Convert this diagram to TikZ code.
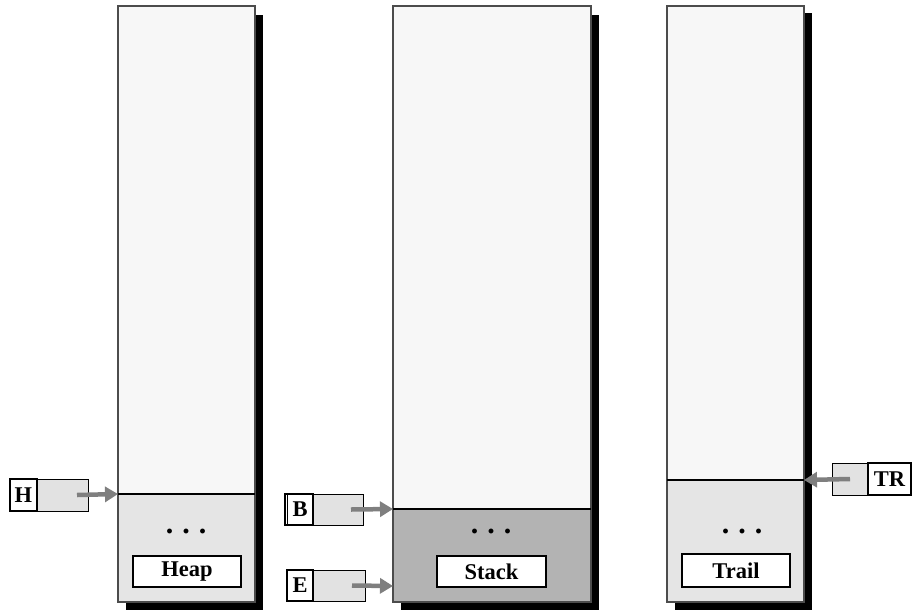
\documentclass[tikz,border=0pt]{standalone}
\usepackage{fontspec}
\setmainfont{Liberation Serif}
\usetikzlibrary{arrows.meta}
\definecolor{topfill}{HTML}{F7F7F7}
\definecolor{lowfill}{HTML}{E5E5E5}
\definecolor{stackfill}{HTML}{B3B3B3}
\definecolor{regfill}{HTML}{E2E2E2}
\definecolor{arrowgray}{HTML}{7F7F7F}
\begin{document}
\begin{tikzpicture}[x=1pt,y=-1pt,
  box/.style={rectangle, anchor=north west, inner sep=0pt, outer sep=0pt},
  colbox/.style={box, draw=black!70, line width=1.1pt, fill=topfill},
  lowbox/.style={box, draw=black!70, line width=1.1pt},
  shadowbox/.style={box, fill=black},
  divider/.style={line width=1.4pt, black},
  labelbox/.style={box, draw=black, line width=1.3pt, fill=white, font=\bfseries\fontsize{22.5}{24}\selectfont},
  letterbox/.style={box, draw=black, line width=1.2pt, fill=white, font=\bfseries\fontsize{22.5}{24}\selectfont},
  valbox/.style={box, draw=black, line width=0.9pt, fill=regfill},
  dots/.style={font=\bfseries\fontsize{30}{32}\selectfont, inner sep=0pt},
  ptr/.style={arrowgray, line width=4.5pt, -{Triangle[length=13pt,width=15pt]}}
]
\useasboundingbox (0,0) rectangle (912,611);

% ---------- Heap ----------
\node[shadowbox, minimum width=137pt, minimum height=595pt] (heapsh) at (126,15) {};
\node[colbox, minimum width=137pt, minimum height=596pt] (heap) at (118,6) {};
\node[lowbox, fill=lowfill, minimum width=137pt, minimum height=108pt] (heaplow) at (118,494) {};
\draw[divider] (heaplow.north west) -- (heaplow.north east);
\node[dots] (heapdots) at (186,531) {.\hspace{9pt}.\hspace{9pt}.};
\node[labelbox, minimum width=108pt, minimum height=31pt] (heaplab) at (133,556) {Heap};

% ---------- Stack ----------
\node[shadowbox, minimum width=198pt, minimum height=595pt] (stacksh) at (401,15) {};
\node[colbox, minimum width=198pt, minimum height=596pt] (stack) at (393,6) {};
\node[lowbox, fill=stackfill, minimum width=198pt, minimum height=93pt] (stacklow) at (393,509) {};
\draw[divider] (stacklow.north west) -- (stacklow.north east);
\node[dots] (stackdots) at (491,531) {.\hspace{9pt}.\hspace{9pt}.};
\node[labelbox, minimum width=109pt, minimum height=31pt] (stacklab) at (437,556) {Stack};

% ---------- Trail ----------
\node[shadowbox, minimum width=137pt, minimum height=597pt] (trailsh) at (675,13) {};
\node[colbox, minimum width=137pt, minimum height=596pt] (trail) at (667,6) {};
\node[lowbox, fill=lowfill, minimum width=137pt, minimum height=122pt] (traillow) at (667,480) {};
\draw[divider] (traillow.north west) -- (traillow.north east);
\node[dots] (traildots) at (742,531) {.\hspace{9pt}.\hspace{9pt}.};
\node[labelbox, minimum width=108pt, minimum height=33pt] (traillab) at (682,554) {Trail};

% ---------- Registers ----------
% H
\node[valbox, minimum width=51pt, minimum height=32pt] (Hv) at (37,479) {};
\node[letterbox, minimum width=27pt, minimum height=32pt] (H) at (10,479) {H};
\coordinate (Htip) at (heaplow.north west);
\draw[ptr] ([xshift=-11pt]Hv.east) -- (Htip);

% B
\node[valbox, minimum width=50pt, minimum height=31pt] (Bv) at (313,494) {};
\node[letterbox, minimum width=28pt, minimum height=31pt] (B) at (285,494) {\hspace{2pt}B};
\draw[line width=0.8pt] ([xshift=2.5pt]B.north west) -- ([xshift=2.5pt]B.south west);
\coordinate (Btip) at (stacklow.north west);
\draw[ptr] ([xshift=-12pt]Bv.east) -- (Btip);

% E
\node[valbox, minimum width=52pt, minimum height=31pt] (Ev) at (313,570) {};
\node[letterbox, minimum width=26pt, minimum height=31pt] (E) at (287,570) {E};
\coordinate (Etip) at (393,586);
\draw[ptr] ([xshift=-13pt]Ev.east) -- (Etip);

% TR
\node[valbox, minimum width=36pt, minimum height=32pt] (TRv) at (832,463) {};
\node[letterbox, minimum width=43pt, minimum height=32pt] (TR) at (868,463) {TR};
\coordinate (TRtip) at (traillow.north east);
\draw[ptr] ([xshift=18pt]TRv.west) -- (TRtip);

\end{tikzpicture}
\end{document}
